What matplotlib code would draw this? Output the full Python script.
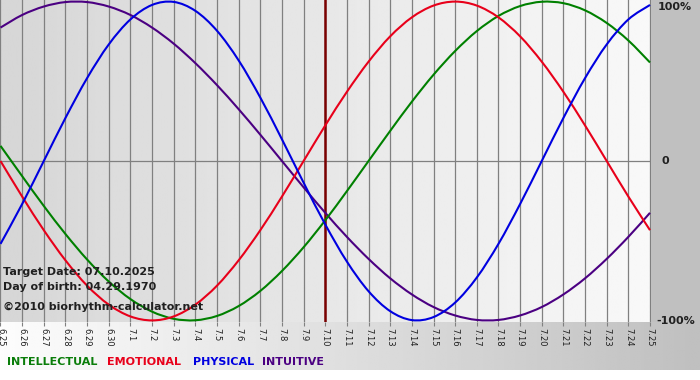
import numpy as np
import matplotlib
matplotlib.use('Agg')
import matplotlib.pyplot as plt
from matplotlib.patches import Rectangle, PathPatch
from matplotlib.path import Path

# Chart data (one value per day, 06.25 .. 07.25)
day_labels = ['6.25', '6.26', '6.27', '6.28', '6.29', '6.30',
              '7.1', '7.2', '7.3', '7.4', '7.5', '7.6', '7.7', '7.8', '7.9', '7.10',
              '7.11', '7.12', '7.13', '7.14', '7.15', '7.16', '7.17', '7.18', '7.19',
              '7.20', '7.21', '7.22', '7.23', '7.24', '7.25']
physical = [-0.520, -0.270, 0.000, 0.270, 0.520, 0.731, 0.888, 0.979, 0.998, 0.942, 0.817,
            0.631, 0.398, 0.136, -0.136, -0.398, -0.631, -0.817, -0.942, -0.998, -0.979,
            -0.888, -0.731, -0.520, -0.270, 0.000, 0.270, 0.520, 0.731, 0.888, 0.979]
emotional = [0.000, -0.223, -0.434, -0.623, -0.782, -0.901, -0.975, -1.000, -0.975, -0.901, -0.782,
             -0.623, -0.434, -0.223, 0.000, 0.223, 0.434, 0.623, 0.782, 0.901, 0.975,
             1.000, 0.975, 0.901, 0.782, 0.623, 0.434, 0.223, 0.000, -0.223, -0.434]
intellectual = [0.095, -0.095, -0.282, -0.458, -0.618, -0.756, -0.866, -0.945, -0.990, -0.999, -0.972,
                -0.910, -0.815, -0.690, -0.541, -0.372, -0.189, 0.000, 0.189, 0.372, 0.541,
                0.690, 0.815, 0.910, 0.972, 0.999, 0.990, 0.945, 0.866, 0.756, 0.618]
intuitive = [0.837, 0.916, 0.969, 0.997, 0.997, 0.969, 0.916, 0.837, 0.736, 0.614, 0.476,
             0.325, 0.165, 0.000, -0.165, -0.325, -0.476, -0.614, -0.736, -0.837, -0.916,
             -0.969, -0.997, -0.997, -0.969, -0.916, -0.837, -0.736, -0.614, -0.476, -0.325]
target_label = '7.10'
value_labels = ['100%', '0', '-100%']

W, H = 700, 380


def smooth_curve(ax, xs, ys, color):
    # draw a smooth (Catmull-Rom style bezier) line through the daily points
    pts = np.column_stack([xs, ys]).astype(float)
    ext = np.vstack([pts[0], pts, pts[-1]])
    verts = [pts[0]]
    codes = [Path.MOVETO]
    for i in range(len(pts) - 1):
        p0, p1, p2, p3 = ext[i], ext[i + 1], ext[i + 2], ext[i + 3]
        verts += [p1 + (p2 - p0) / 6, p2 - (p3 - p1) / 6, p2]
        codes += [Path.CURVE4] * 3
    ax.add_patch(PathPatch(Path(verts, codes), facecolor='none', edgecolor=color,
                           lw=1.5, zorder=3))


fig = plt.figure(figsize=(W / 100, H / 100), dpi=100)
fig.patch.set_facecolor('white')

# background frame: grey right margin + gradient strip under the plot
bg = fig.add_axes([0, 0, 1, 1], zorder=-10)
bg.set_xlim(0, W)
bg.set_ylim(H, 0)
bg.axis('off')
bg.imshow(np.linspace(0.99, 0.75, 256)[None, :], cmap='gray', vmin=0, vmax=1,
          extent=[0, W, 370, 322], aspect='auto', interpolation='bilinear')
bg.add_patch(Rectangle((651, 0), W - 651, 322, color='#c0c0c0', lw=0))

ax = fig.add_axes([0, (H - 322) / H, 651 / W, 322 / H])
x = np.arange(len(day_labels))
ax.set_xlim(-0.023, len(day_labels) - 1 + 0.046)
ax.set_ylim(-1.01, 1.01)
ax.imshow(np.linspace(0.84, 0.975, 256)[None, :], cmap='gray', vmin=0, vmax=1,
          extent=[ax.get_xlim()[0], ax.get_xlim()[1], -1.01, 1.01], aspect='auto',
          interpolation='bilinear', zorder=0)

for s in ax.spines.values():
    s.set_visible(False)

for xi in x:
    ax.axvline(xi, color='#808080', lw=0.9, zorder=1)
ax.axhline(0, color='#808080', lw=0.9, zorder=1)
ax.axvline(day_labels.index(target_label), color='#7a0000', lw=1.8, zorder=2)

smooth_curve(ax, x, intuitive, '#4b0082')
smooth_curve(ax, x, intellectual, '#008000')
smooth_curve(ax, x, emotional, '#e8001a')
smooth_curve(ax, x, physical, '#0000e0')

ax.set_xticks(x)
ax.set_xticklabels(day_labels, rotation=-90, fontsize=6, color='#202020')
ax.tick_params(axis='x', length=3, width=0.8, color='#808080', pad=1)
ax.set_yticks([])

# percentage labels in the right margin
for lab, px, py in zip(value_labels, [658, 661, 656], [7, 161, 321]):
    fig.text(px / W, 1 - py / H, lab, ha='left', va='center', fontsize=8,
             fontweight='bold', color='#202020')

# info text in lower left
info = ['Target Date: 07.10.2025', 'Day of birth: 04.29.1970', '\u00a92010 biorhythm-calculator.net']
info_y = [272, 287, 307]
for t, yy in zip(info, info_y):
    fig.text(3 / W, 1 - yy / H, t, ha='left', va='center', fontsize=8,
             fontweight='bold', color='#202020')

# legend words
legend_words = ['INTELLECTUAL', 'EMOTIONAL', 'PHYSICAL', 'INTUITIVE']
legend_colors = ['#0a7d0a', '#e8001a', '#0000e0', '#4b0082']
legend_x = [7, 107, 193, 262]
for word, col, lx in zip(legend_words, legend_colors, legend_x):
    fig.text(lx / W, 1 - 362 / H, word, ha='left', va='center', fontsize=8,
             fontweight='bold', color=col)

fig.savefig('out.png', dpi=100)
